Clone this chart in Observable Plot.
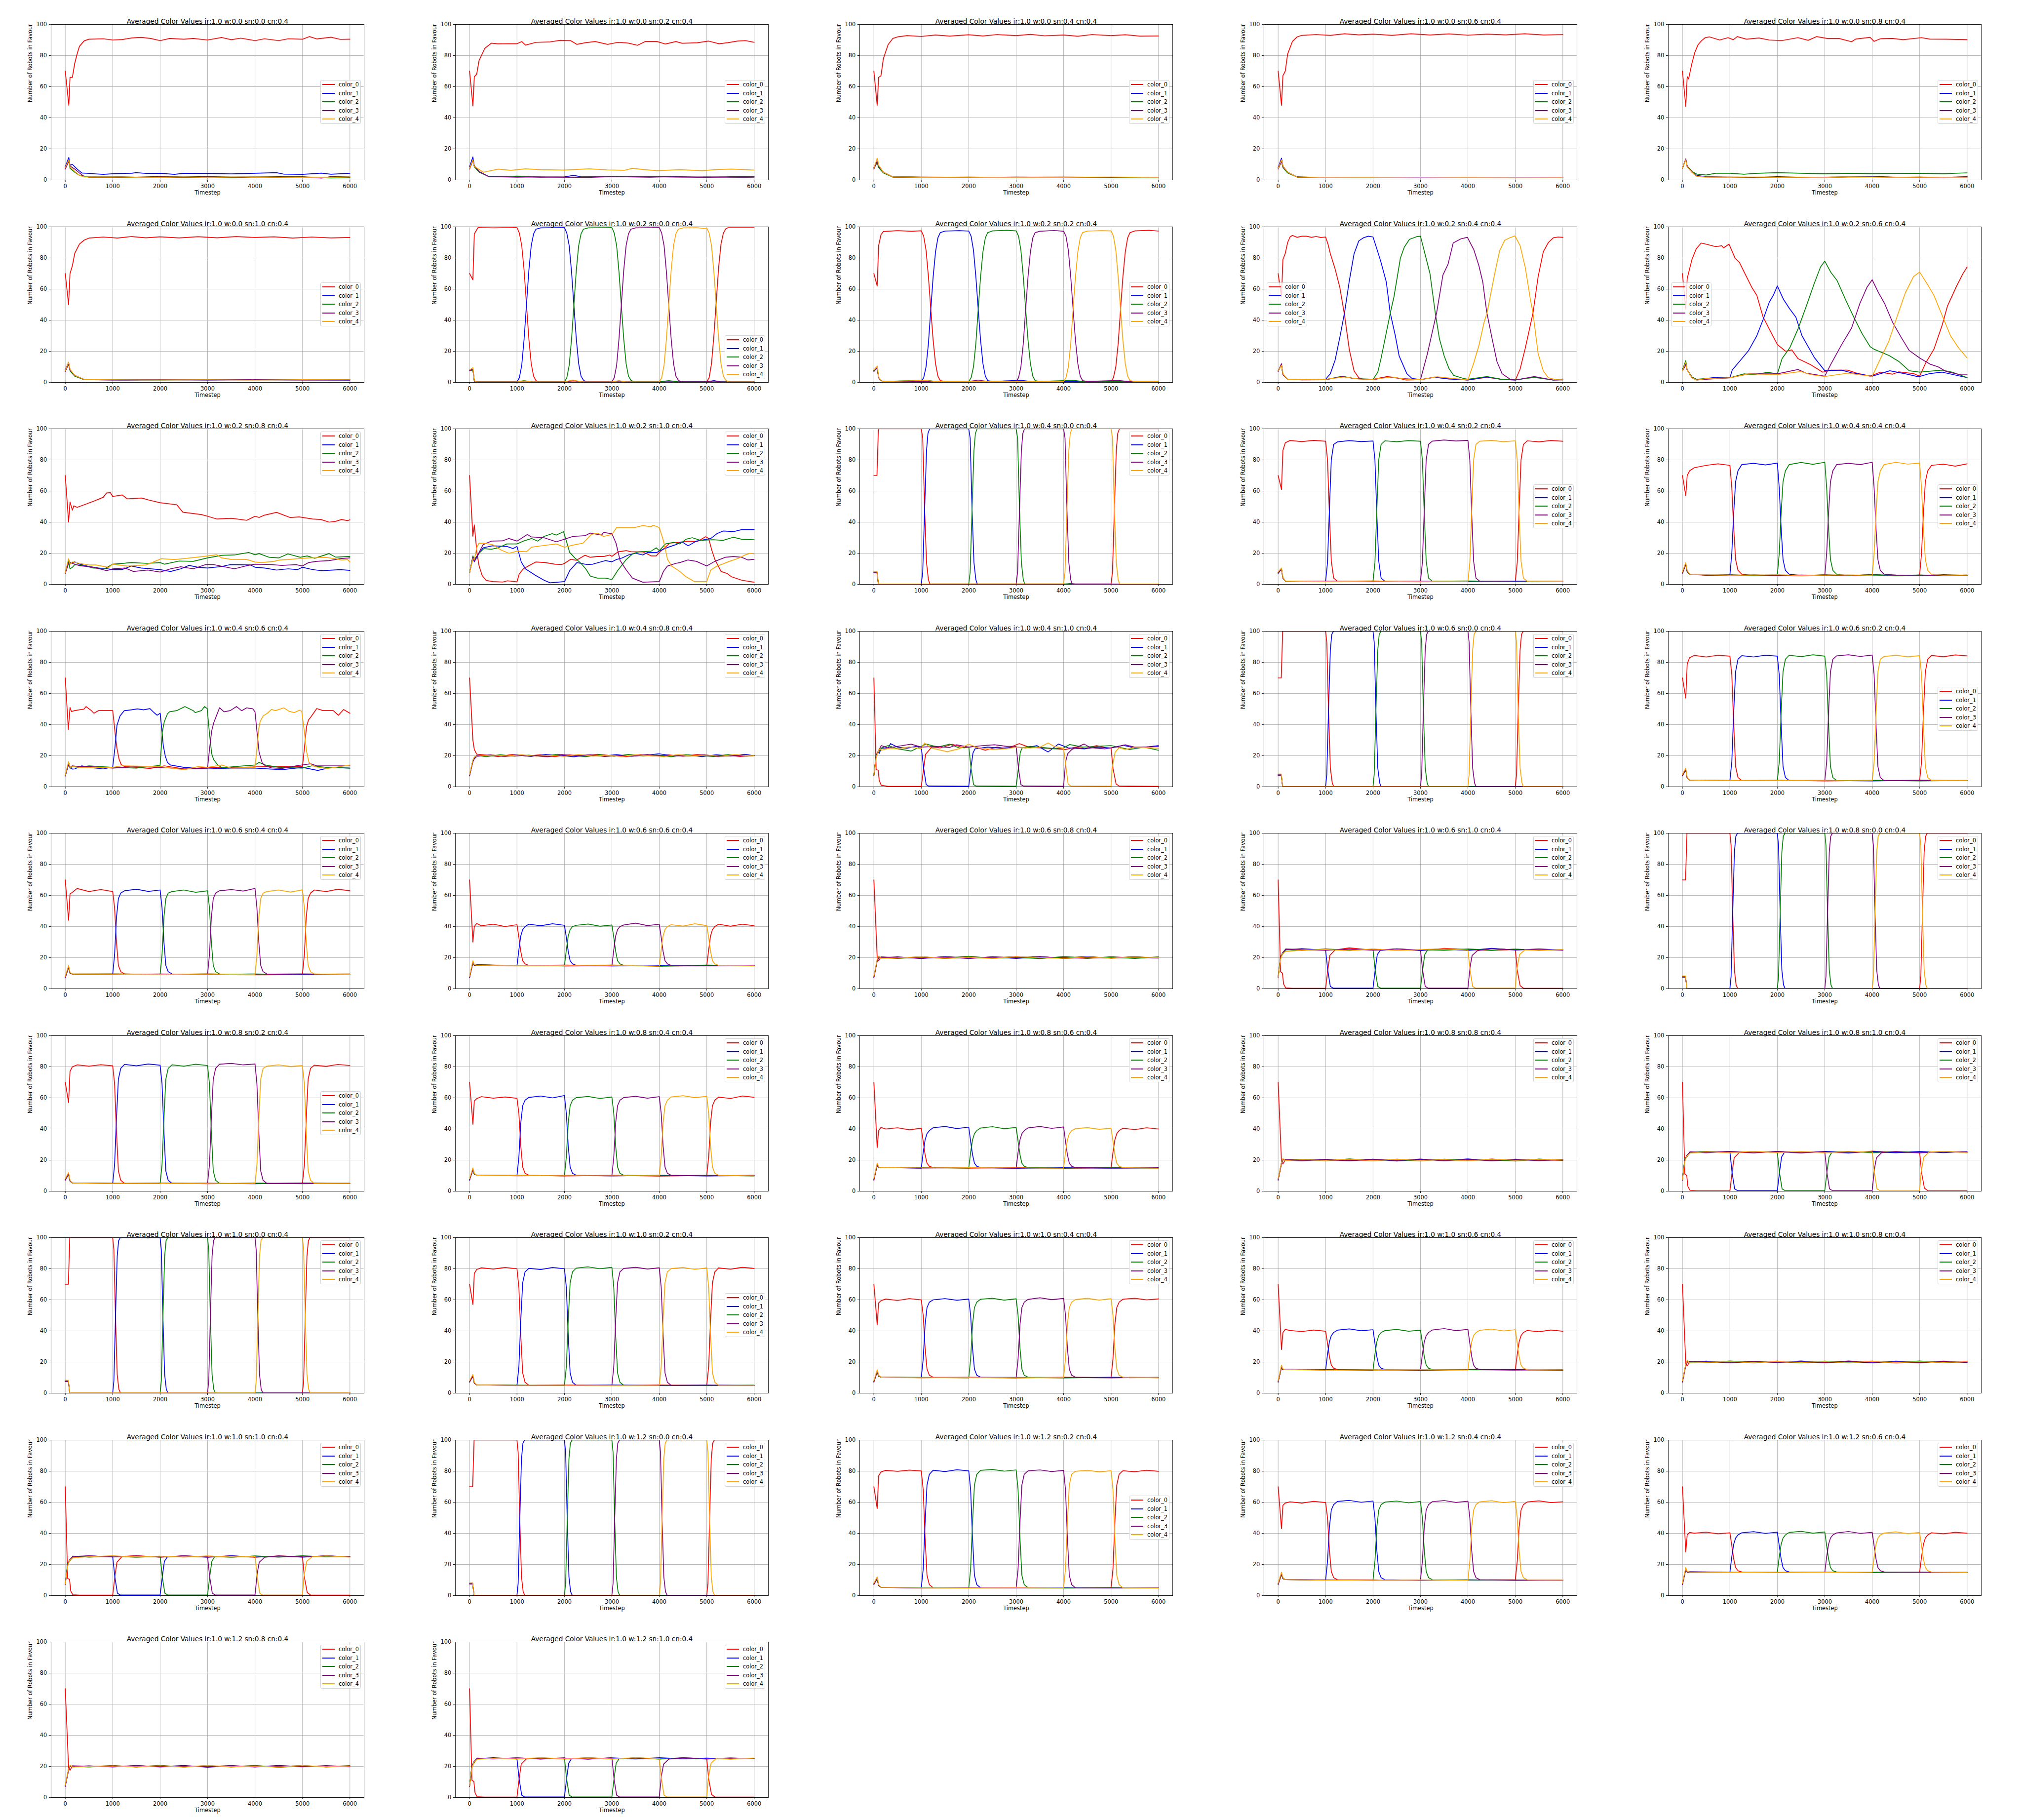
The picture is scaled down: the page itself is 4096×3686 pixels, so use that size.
<!DOCTYPE html>
<html><head><meta charset="utf-8">
<script src="https://cdn.jsdelivr.net/npm/d3@7"></script>
<script src="https://cdn.jsdelivr.net/npm/@observablehq/plot@0.6"></script>
<style>
html,body{margin:0;padding:0;background:#fff;}
#fig{position:relative;width:4096px;height:3686px;overflow:hidden;font-family:"DejaVu Sans",sans-serif;background:#fff;}
.cell{position:absolute;width:819px;height:410px;}
.cell svg{position:absolute;left:0;top:0;overflow:visible;}
.legend{position:absolute;width:82px;height:89px;box-sizing:border-box;background:rgba(255,255,255,0.8);border:1px solid #d4d4d4;border-radius:3px;}
.legend .h{position:absolute;left:3px;width:25px;height:2px;}
.legend .t{position:absolute;left:36px;font-size:11.4px;line-height:12px;color:#000;white-space:nowrap;}
</style></head>
<body><div id="fig"></div>
<script>
const series = ["color_0","color_1","color_2","color_3","color_4"];
const lineColors = ["red","blue","green","purple","orange"];
const xTicks = [0,1000,2000,3000,4000,5000,6000];
const yTicks = [0,20,40,60,80,100];
const wValues = ["0.0","0.2","0.4","0.6","0.8","1.0","1.2"];
const snValues = ["0.0","0.2","0.4","0.6","0.8","1.0"];
const legendLoc = ["cr","cr","cr","cr","cr", "cr","lr","cr","cl","cl", "ur","ur","ur","cr","cr", "ur","ur","ur","ur","cr",
  "ur","ur","ur","ur","ur", "cr","ur","ur","ur","ur", "ur","cr","ur","ur","ur", "ur","ur","cr","ur","ur", "ur","ur"];

const P00 = [
 [0,70, 75,48, 100,66, 150,66, 200,75, 250,81, 300,86, 400,89.5, 500,90.5, 800,90.8, 1000,90, 1200,90.3, 1400,91.3, 1600,91.7, 1800,91, 2000,89.6, 2200,91, 2500,90.5, 2700,91, 3000,90, 3300,91.6, 3500,90.2, 3700,91.2, 4000,89.6, 4200,90.8, 4500,89.6, 4700,90.8, 5000,90.5, 5150,92.2, 5300,90.7, 5600,91.8, 5800,90.4, 6000,90.5],
 [0,8.5, 75,14.5, 100,9.5, 150,10, 250,7, 350,4.5, 500,4.2, 800,3.6, 1000,4, 1400,4.3, 1500,4.7, 1700,4.2, 2000,4.3, 2300,3.6, 2500,4.3, 3000,4.2, 3500,3.9, 4000,4.3, 4450,4.7, 4600,3.8, 5000,3.6, 5400,4.4, 5600,3.7, 6000,4.3],
 [0,7.5, 75,13, 100,7.5, 200,5, 300,3, 400,2.5, 500,1.8, 1000,1.8, 1500,1.5, 2000,1.9, 2500,1.6, 3000,1.8, 3500,1.5, 4000,1.9, 4500,1.7, 5000,2, 5600,1.3, 6000,1.5],
 [0,7, 75,12, 100,9, 200,7, 300,4.5, 400,2.2, 1000,2.1, 1500,1.8, 2000,2.3, 2500,2, 3000,2.2, 3500,1.9, 4000,2, 4500,2.1, 5000,2, 5400,1.2, 5600,2.2, 6000,2],
 [0,8, 75,13, 100,8.5, 200,5.5, 300,3, 400,2, 1000,2, 1500,1.7, 2000,1.8, 2500,2, 3000,1.6, 3500,1.9, 4000,2, 4500,1.8, 5000,1.8, 5500,1.6, 6000,2]];
const P01 = [
 [0,70, 70,47.6, 100,66.4, 150,68, 200,76.8, 320,84.6, 460,88, 600,87.5, 800,87.6, 1000,87.6, 1100,89, 1180,86.7, 1400,88.5, 1700,88.8, 1915,89.8, 2130,89.6, 2260,87.2, 2450,88.3, 2650,89, 2910,87.2, 3130,88.5, 3350,88, 3540,86.6, 3700,89, 3955,89, 4130,87.4, 4350,89, 4480,87.9, 4800,88.2, 5040,89.3, 5260,87.6, 5450,88.3, 5650,89.3, 5820,89.6, 6000,88.5],
 [0,8.5, 70,14.8, 100,9.2, 200,5.3, 400,2.3, 700,2, 1000,2.2, 1500,1.8, 2000,2, 2200,3, 2350,2, 2800,2.1, 3300,2, 3800,1.8, 4300,2.2, 4800,1.8, 5300,1.9, 5800,1.6, 6000,1.9],
 [0,7.5, 70,13, 100,8.5, 200,5, 400,2.3, 700,2, 1000,2.5, 1500,1.9, 2000,1.8, 2500,1.9, 3000,2.2, 3500,2.1, 4000,2, 4500,1.8, 5000,2, 5500,1.8, 6000,1.8],
 [0,7, 70,12.5, 100,9, 200,5.5, 400,2.2, 1000,1.8, 1500,2, 2000,1.8, 2500,1.6, 3000,2.2, 3500,2, 4000,2.1, 4500,2, 5000,1.7, 5500,2.1, 6000,2.1],
 [0,7.5, 70,13, 100,8.8, 290,5, 610,7, 870,6.2, 1180,7.2, 1500,6.6, 2000,6.4, 2520,7.2, 2900,6.5, 3260,6.2, 3430,7.5, 3700,6.6, 3955,6, 4430,6.6, 4910,6, 5200,6.7, 5520,7, 6000,6.4]];
const P02 = [
 [0,70, 70,48, 100,66, 150,67, 200,78, 300,87, 400,91, 500,92, 700,92.8, 1000,92.3, 1300,93.2, 1600,92.5, 2000,93.4, 2300,92.6, 2600,93.5, 3000,92.8, 3300,93.6, 3600,92.7, 4000,93.2, 4300,92.4, 4600,93.5, 5000,92.8, 5300,93.4, 5600,92.5, 6000,92.6],
 [0,8, 70,12, 100,9, 200,5, 400,2, 1000,1.8, 2000,1.6, 3000,1.9, 4000,1.6, 5000,1.8, 6000,1.7],
 [0,7.5, 70,11, 100,8, 200,4.5, 400,1.8, 1000,1.6, 2000,1.9, 3000,1.5, 4000,1.8, 5000,1.6, 6000,1.5],
 [0,7, 70,12, 100,9, 200,5, 400,2, 1000,1.9, 2000,1.7, 3000,1.8, 4000,1.9, 5000,1.7, 6000,1.8],
 [0,7.5, 70,14, 100,9.5, 200,5, 400,2, 1000,1.7, 2000,1.8, 3000,1.6, 4000,1.7, 5000,1.9, 6000,1.6]];
const P03 = [
 [0,70, 70,48, 100,67, 150,70, 200,81, 300,89, 400,92, 500,93, 800,93.5, 1100,93, 1400,94, 1700,93.3, 2000,93.8, 2400,93, 2800,94, 3200,93.2, 3600,93.9, 4000,93.1, 4400,93.8, 4800,93.3, 5200,94, 5600,93.2, 6000,93.5],
 [0,8, 70,14, 100,9, 200,5, 400,2, 1000,1.5, 2000,1.7, 3000,1.4, 4000,1.8, 5000,1.5, 6000,1.6],
 [0,7.5, 70,12, 100,8, 200,4.5, 400,1.8, 1000,1.6, 2000,1.5, 3000,1.8, 4000,1.5, 5000,1.7, 6000,1.5],
 [0,7, 70,12, 100,8.5, 200,5, 400,1.9, 1000,1.7, 2000,1.6, 3000,1.7, 4000,1.6, 5000,1.6, 6000,1.8],
 [0,7.5, 70,13, 100,9, 200,5, 400,1.9, 1000,1.6, 2000,1.7, 3000,1.5, 4000,1.7, 5000,1.5, 6000,1.6]];
const P04 = [
 [0,70, 70,47.3, 100,66.4, 130,65, 150,68, 200,75, 260,82, 330,87, 400,89.5, 480,91.5, 570,92, 785,90, 960,91.5, 1070,90.2, 1155,92.2, 1350,90.5, 1610,91.3, 1830,90, 2090,89.6, 2435,91.5, 2650,89.8, 2830,92.2, 3050,91, 3300,91, 3565,88.9, 3650,90.6, 3955,91.7, 4040,89.1, 4170,90.8, 4430,91, 4650,90.2, 5040,91.5, 5210,90.6, 5560,90.5, 6000,90.2],
 [0,7.5, 70,13.5, 100,8.5, 200,5, 300,3, 500,2, 1000,1.7, 1500,1.5, 2000,2.1, 2500,1.7, 3000,1.8, 3500,2, 4000,2.3, 4500,1.7, 5000,1.9, 5500,1.6, 6000,2.1],
 [0,7.5, 70,13, 100,9, 200,5.5, 300,3.8, 500,3.2, 700,4.3, 1000,4.3, 1300,3.7, 1500,4.2, 2000,4.7, 2500,4.3, 3000,4, 3500,4.3, 4000,4.1, 4500,4.2, 5000,4.3, 5500,4, 6000,4.6],
 [0,7.5, 70,13.5, 100,9, 200,5, 300,2.5, 500,2, 1000,1.9, 1500,1.8, 2000,1.9, 2500,1.6, 3000,1.7, 3500,1.9, 4000,2, 4500,1.8, 5000,1.6, 5500,1.5, 6000,2],
 [0,7.5, 70,13, 100,8.5, 200,5, 300,2.5, 500,1.8, 1000,1.7, 1500,1.9, 2000,1.8, 2500,1.8, 3000,1.6, 3500,2, 4000,1.9, 4500,1.7, 5000,1.8, 5500,1.7, 6000,1.6]];
const P05 = [
 [0,70, 70,50, 100,70, 150,75, 200,83, 300,89, 400,91.5, 500,92.8, 800,93.5, 1100,92.8, 1400,93.8, 1700,93, 2000,93.6, 2400,92.9, 2800,93.7, 3200,93, 3600,93.8, 4000,93.2, 4400,93.6, 4800,92.8, 5200,93.5, 5600,92.9, 6000,93.2],
 [0,8, 70,13, 100,8, 200,4.5, 400,1.8, 1000,1.6, 2000,1.8, 3000,1.5, 4000,1.7, 5000,1.6, 6000,1.5],
 [0,7.5, 70,11.5, 100,7.5, 200,4, 400,1.8, 1000,1.7, 2000,1.5, 3000,1.8, 4000,1.6, 5000,1.7, 6000,1.8],
 [0,7, 70,12, 100,8, 200,4.5, 400,1.8, 1000,1.5, 2000,1.7, 3000,1.6, 4000,1.8, 5000,1.5, 6000,1.6],
 [0,7.5, 70,13, 100,8.5, 200,4.5, 400,1.9, 1000,1.7, 2000,1.6, 3000,1.7, 4000,1.5, 5000,1.8, 6000,1.7]];
const P06 = [
 [0,70, 70,66, 100,95.5, 180,99.6, 500,99.4, 1000,99.6, 1050,96, 1100,88, 1150,72, 1200,50, 1250,28, 1300,12, 1350,4, 1400,1.2, 1450,0.4, 5000,0.4, 5050,3, 5100,12, 5150,30, 5200,52, 5250,74, 5300,89, 5350,96, 5400,98.7, 5450,99.5, 6000,99.5],
 [0,8, 70,8.5, 100,1, 150,0.4, 1000,0.4, 1050,3, 1100,11, 1150,28, 1200,50, 1250,72, 1300,88, 1350,95.5, 1400,98.5, 1500,99.4, 2000,99.6, 2050,96, 2100,88, 2150,71, 2200,49, 2250,28, 2300,12, 2350,4, 2400,1.5, 2450,0.4, 3000,0.4, 3150,1, 3300,0.4, 5000,0.4, 5150,1.2, 5300,0.4, 6000,0.4],
 [0,7.5, 70,8, 100,1, 150,0.4, 1000,0.4, 1150,1.2, 1300,0.4, 2000,0.4, 2050,3, 2100,11, 2150,28, 2200,50, 2250,72, 2300,88, 2350,95.5, 2400,98.5, 2500,99.4, 3000,99.6, 3050,96, 3100,88, 3150,71, 3200,49, 3250,28, 3300,12, 3350,4, 3400,1.5, 3450,0.4, 4000,0.4, 4200,1.2, 4400,0.4, 6000,0.4],
 [0,7.5, 70,8.5, 100,1, 150,0.4, 2000,0.4, 2200,1.2, 2350,0.4, 3000,0.4, 3050,3, 3100,11, 3150,28, 3200,50, 3250,72, 3300,88, 3350,95.5, 3400,98.5, 3500,99.4, 4000,99.6, 4050,96, 4100,88, 4150,71, 4200,49, 4250,28, 4300,12, 4350,4, 4400,1.5, 4450,0.4, 5000,0.4, 5150,1, 5300,0.4, 6000,0.4],
 [0,8, 70,9.5, 100,1.2, 150,0.4, 1000,0.4, 1150,1, 1300,0.4, 2000,0.4, 2180,1.6, 2350,0.4, 3000,0.4, 3150,1.1, 3300,0.4, 4000,0.4, 4050,3, 4100,11, 4150,28, 4200,50, 4250,72, 4300,88, 4350,95.5, 4400,98.5, 4500,99.4, 4800,99.5, 4950,99, 5000,99.3, 5050,96, 5100,88, 5150,71, 5200,49, 5250,28, 5300,12, 5350,4, 5400,1.5, 5450,0.4, 6000,0.4]];
const P07 = [
 [0,70, 70,62, 100,88, 150,95, 200,97, 500,97.6, 800,97.2, 1000,97.5, 1050,94, 1100,85, 1150,68, 1200,47, 1250,27, 1300,12, 1350,4, 1400,1.2, 1500,0.6, 5000,0.6, 5050,3, 5100,10, 5150,25, 5200,47, 5250,68, 5300,84, 5350,93, 5400,96.3, 5500,97.4, 5800,97.8, 6000,97.3],
 [0,7.5, 70,9.5, 100,3, 150,1.2, 200,0.6, 1000,0.6, 1050,3, 1100,10, 1150,25, 1200,47, 1250,68, 1300,84, 1350,93, 1400,96.3, 1500,97.3, 1800,97.6, 2000,97.3, 2050,94, 2100,85, 2150,68, 2200,47, 2250,27, 2300,12, 2350,4, 2400,1.2, 2500,0.6, 3100,1.4, 3300,0.6, 6000,0.6],
 [0,7.5, 70,9, 100,3, 150,1.2, 200,0.6, 1100,1.5, 1300,0.6, 2000,0.6, 2050,3, 2100,10, 2150,25, 2200,47, 2250,68, 2300,84, 2350,93, 2400,96.3, 2500,97.4, 2800,97.8, 3000,97.4, 3050,94, 3100,85, 3150,68, 3200,47, 3250,27, 3300,12, 3350,4, 3400,1.2, 3500,0.6, 4200,1.4, 4400,0.6, 6000,0.6],
 [0,7, 70,9.5, 100,3, 150,1.2, 200,0.6, 2000,0.6, 2200,1.5, 2400,0.6, 3000,0.6, 3050,3, 3100,10, 3150,25, 3200,47, 3250,68, 3300,84, 3350,93, 3400,96.3, 3500,97.2, 3800,97.7, 4000,97.2, 4050,94, 4100,85, 4150,68, 4200,47, 4250,27, 4300,12, 4350,4, 4400,1.2, 4500,0.6, 5150,1.3, 5350,0.6, 6000,0.6],
 [0,8, 70,10.5, 100,3.5, 150,1.2, 200,0.6, 1100,1.3, 1300,0.6, 4000,0.6, 4050,3, 4100,10, 4150,25, 4200,47, 4250,68, 4300,84, 4350,93, 4400,96.3, 4500,97.3, 4800,97.6, 5000,97.4, 5050,94, 5100,85, 5150,68, 5200,47, 5250,27, 5300,12, 5350,4, 5400,1.2, 5500,0.6, 6000,0.6]];
const P08 = [
 [0,70, 70,55, 100,79, 150,83, 200,90, 250,93.5, 300,94.5, 400,93.3, 500,94, 600,94, 700,93.3, 800,93.8, 900,93.2, 1000,93.5, 1050,89, 1100,82.7, 1200,73, 1300,61, 1400,43, 1500,21, 1600,7.4, 1700,3, 1800,2, 2000,2, 2300,3.8, 2500,3, 2700,1.5, 3000,1.8, 3300,3.5, 3600,2.5, 4000,1.5, 4400,3.3, 4700,2, 5000,1.5, 5100,8.5, 5209,22, 5317,37, 5372,44.6, 5480,68, 5589,84, 5697,90, 5800,93, 5900,93.5, 6000,93.3],
 [0,7.5, 70,11.5, 100,5, 200,2, 500,1.8, 1000,2, 1100,5.6, 1200,14.3, 1300,29, 1400,45, 1500,65.4, 1600,82.7, 1700,91, 1800,93, 1900,94, 2000,93.5, 2100,84, 2170,77, 2280,64.5, 2360,45, 2470,30, 2550,17, 2713,5.6, 2821,2.6, 3000,1.8, 3300,3.3, 3600,2.2, 4000,1.5, 4400,3.5, 4700,2, 5000,1.5, 5400,3.5, 5800,1.5, 6000,1.8],
 [0,7.5, 70,11, 100,5, 200,2, 500,1.7, 1000,1.8, 1350,4, 1600,2.5, 2000,2, 2100,6.5, 2170,15.6, 2366,45, 2441,55, 2577,80, 2659,87, 2767,92, 2930,93.8, 3000,94, 3100,82, 3200,70, 3310,45, 3400,28, 3500,17, 3600,9, 3700,4.5, 3900,2.6, 4000,2, 4400,3.8, 4700,2, 5000,1.7, 5400,3.2, 5800,1.5, 6000,2.2],
 [0,7, 70,12, 100,5, 200,2, 500,1.6, 1000,1.7, 1350,3.8, 1600,2.5, 2000,1.7, 2300,3.5, 2600,2.5, 3000,1.8, 3147,18.6, 3342,45, 3473,69, 3581,76, 3690,89.7, 3853,92.3, 3988,93.3, 4124,85.4, 4232,75, 4313,64.6, 4395,45.5, 4504,29, 4612,13.4, 4720,5.6, 4883,2.2, 5000,1.5, 5400,3.8, 5800,1.5, 6000,1.6],
 [0,7.5, 70,11, 100,5.5, 200,2, 500,1.8, 1000,2, 1400,3.5, 1700,2.2, 2000,2, 2400,3.5, 2700,2, 3000,1.8, 3350,3.6, 3700,2.5, 4000,1.7, 4124,12.6, 4232,23.8, 4340,38.6, 4405,45, 4558,69, 4667,84.6, 4775,91.4, 4883,93, 4992,94.2, 5100,88, 5209,74, 5317,53.4, 5372,44.6, 5480,18.6, 5589,7.4, 5697,3, 5860,1.7, 6000,1.7]];
const P09 = [
 [0,70, 70,47, 100,66.8, 200,79, 290,85.9, 395,89.6, 500,88.9, 700,87.3, 830,87.9, 864,86.5, 981,88.9, 1110,79.8, 1200,77.2, 1305,70.7, 1460,61.2, 1567,56, 1700,42, 1830,34.3, 2000,24.4, 2175,20, 2305,20.9, 2435,15.3, 2700,11.4, 2955,6.6, 3130,7.9, 3480,7.9, 3650,6.2, 3955,4, 4170,6.6, 4430,5.3, 4560,6.8, 4870,5.7, 5000,4, 5130,12.7, 5300,21.3, 5475,36.9, 5585,49, 5780,62, 5910,69.8, 6000,74.2],
 [0,8.5, 70,12, 100,8, 200,3.5, 300,1.8, 500,2.5, 700,3.3, 1000,3, 1050,8, 1180,12.7, 1394,20.5, 1567,30, 1700,40.4, 1830,51.6, 1915,56, 2000,62, 2130,53.4, 2260,47.3, 2390,42, 2520,30, 2650,23, 2780,16, 2910,11, 3000,7.5, 3350,7.9, 3565,6.2, 4000,4, 4370,7.5, 4740,5.3, 4975,3.6, 5215,5.7, 5475,6.6, 6000,3.1],
 [0,8, 70,14, 100,8, 200,3.5, 300,2, 500,2.5, 1000,3, 1300,5.5, 1500,5, 1800,6.5, 2000,5.5, 2100,15.3, 2260,22.2, 2435,34.3, 2610,49, 2780,63.8, 2910,74.2, 3000,78, 3130,70.7, 3260,65.5, 3435,53.4, 3610,42, 3780,31.7, 3955,23, 4040,21.3, 4350,17.4, 4560,13.5, 4780,7.5, 5000,6.6, 5475,7.9, 5690,6.6, 6000,3.1],
 [0,7.5, 70,11, 100,8, 200,3, 300,1.5, 500,2, 1000,3, 1400,5.5, 2000,5.5, 2435,8.3, 2600,6, 3000,4, 3130,11.8, 3350,24, 3565,35, 3740,50.8, 3890,61.2, 4000,66, 4130,57.8, 4260,50.8, 4430,38.6, 4610,29, 4780,20.5, 5000,15.7, 5215,11.8, 5390,10, 5560,7, 5865,4.9, 6000,4.9],
 [0,7.5, 70,13, 100,8, 200,3, 300,1.5, 500,2.5, 1000,3, 1400,5.5, 2000,5, 2500,7, 2700,5, 3000,3.8, 3500,6, 3700,5, 4000,4, 4215,17.9, 4350,26.5, 4520,42, 4700,57.7, 4870,68, 5000,71, 5170,62.8, 5300,56, 5475,43, 5650,30, 5820,22.2, 6000,15.7]];
const P10 = [
 [0,70, 70,40, 100,53, 150,47.7, 180,50.5, 250,49.5, 400,51.2, 600,53.5, 800,56, 873,58.8, 950,59, 1000,56.5, 1200,57.5, 1307,55, 1611,55.5, 1763,54.2, 2000,52.5, 2350,51.2, 2480,46.4, 2870,44.9, 3000,43.8, 3200,42, 3500,42.5, 3825,41.2, 4000,43.8, 4086,43, 4200,44.5, 4455,46.3, 4737,43, 4933,43.4, 5215,42, 5389,41.7, 5562,40, 5700,40.5, 5823,41.7, 5950,41, 6000,41.5],
 [0,7.5, 70,16, 100,13.5, 200,14.4, 300,13, 500,11.5, 700,10.5, 900,10, 1000,9.5, 1200,9.5, 1394,11.8, 1600,10.5, 2000,9.5, 2219,8.3, 2435,10, 2610,12.2, 2800,11, 3000,10.5, 3300,11.5, 3478,12.7, 3900,12.5, 4000,11, 4200,10.5, 4455,9.2, 4700,10, 4900,9.5, 5000,11, 5200,9.6, 5389,8.8, 5800,9.5, 6000,9],
 [0,7.5, 70,15, 100,10, 150,11, 200,12.7, 400,12, 590,10.5, 830,10, 1000,13, 1400,14, 1741,13.5, 2000,14, 2089,13, 2400,15, 2697,14.8, 3000,17, 3304,18.7, 3565,18.9, 3869,20.5, 4000,19, 4086,19.8, 4300,17.4, 4500,17, 4694,19.6, 4954,17.4, 5100,18.3, 5258,16.8, 5562,19.8, 5700,17.5, 6000,18],
 [0,7, 70,13.5, 100,14, 150,13.5, 300,12, 600,11, 873,8.8, 1000,10, 1263,10.5, 1437,8.3, 1741,9.2, 2000,7.9, 2219,10, 2435,11.3, 2697,10, 2957,12.7, 3130,12.7, 3565,10, 3825,12, 4000,13, 4350,12.7, 4565,12.2, 4867,12.7, 4997,11.8, 5128,14, 5300,14.8, 5562,15.3, 5823,16.6, 6000,17],
 [0,7.5, 70,16.5, 100,13, 150,14.4, 300,13.5, 504,12.5, 650,12.5, 916,10.9, 1000,13, 1307,11.8, 1700,12.5, 1828,14, 2023,16.5, 2300,16, 2480,16.5, 2900,17.9, 3196,19.1, 3300,17, 3500,16.1, 3825,16, 4000,14.4, 4130,14, 4400,14.8, 4520,15.7, 4700,16, 4900,16.5, 5128,17, 5476,17.4, 5700,16.5, 5823,15.7, 5950,16, 6000,14.4]];
const P11 = [
 [0,70, 69,31, 100,38.2, 156,20, 200,12, 265,5.7, 350,2.5, 500,1.8, 700,1.5, 800,2.3, 1000,1.6, 1046,6.6, 1133,10, 1263,12.2, 1394,14.4, 1600,14, 1800,13, 1937,12.7, 2000,13.5, 2132,16.1, 2250,15.5, 2435,18.7, 2545,17.4, 2700,18, 2827,17.9, 2957,18.9, 3000,18, 3130,20.9, 3304,21.7, 3400,21, 3652,20.9, 3750,19.5, 3825,18.3, 3934,18.3, 4000,20.5, 4130,23.9, 4216,26.5, 4433,27, 4607,27.8, 4800,27.5, 4976,30.6, 5040,29.5, 5106,22, 5171,16, 5302,8.3, 5432,7, 5519,4.9, 5736,2.7, 6000,1.4],
 [0,7.5, 70,17, 100,14.5, 200,20, 287,23.5, 482,24.8, 700,24.5, 786,24.4, 916,23, 1000,24.4, 1090,14.4, 1177,10, 1394,5.7, 1568,2.7, 1698,1, 2002,1.8, 2110,8.8, 2262,14, 2480,12.7, 2600,13, 2870,15.3, 3000,14.5, 3100,16, 3217,17, 3348,18.9, 3500,20, 3652,18.9, 3750,20.5, 3950,20.5, 4000,21.5, 4200,24, 4347,25.5, 4477,27.4, 4607,24.8, 4781,27.8, 5000,29, 5085,29.5, 5215,32.6, 5345,34.3, 5562,33.9, 5736,35.2, 6000,35.2],
 [0,7.5, 70,18.3, 100,16, 200,20, 300,23, 460,22.6, 600,23.5, 786,26, 1000,26, 1133,27.8, 1307,29.5, 1437,27.8, 1568,30.8, 1741,32.6, 1828,31.7, 1980,33.9, 2045,27.4, 2110,20.5, 2219,17, 2349,13.5, 2458,9.6, 2545,5.3, 2697,4, 2870,4, 3000,3.1, 3130,9.2, 3304,16, 3435,19.6, 3565,20.9, 3825,21.3, 3934,23.5, 4000,21.7, 4130,26, 4303,27, 4433,26, 4564,29, 4694,30, 4868,28.3, 5128,28.7, 5345,28.3, 5562,30.3, 5736,29, 6000,28.7],
 [0,7.5, 70,17.5, 100,15, 200,20.5, 287,25.6, 460,27.8, 700,28, 830,29.5, 1000,27.8, 1220,32.1, 1300,30.5, 1568,30, 1828,27.4, 2000,29, 2175,30.8, 2435,31.3, 2545,33, 2783,31.7, 2827,33.4, 3000,32.6, 3087,26.5, 3174,15.3, 3304,9.2, 3435,4, 3652,1.4, 4000,1.8, 4086,8.3, 4173,11.8, 4347,13.5, 4433,14, 4607,15.7, 4781,14.8, 4998,11.8, 5172,14.8, 5389,17.4, 5562,17.9, 5736,17.4, 5867,15.7, 6000,16.1],
 [0,7.5, 70,16.5, 100,16, 156,24, 200,26.5, 287,26.5, 482,25.6, 656,22.2, 830,20, 1000,21.3, 1200,21, 1307,23.9, 1568,25, 1828,26, 2000,23.9, 2175,25.2, 2392,26.5, 2566,32.1, 2697,33, 2827,30.8, 3000,32.1, 3100,36.5, 3300,36.5, 3478,36.5, 3652,37.8, 3825,37, 3869,38, 4000,36.5, 4086,28.2, 4173,16.1, 4260,11.8, 4433,8.3, 4564,4.9, 4738,1.8, 4998,1.8, 5085,9.2, 5215,11.8, 5302,12.7, 5476,14.8, 5650,16.6, 5823,19.1, 5910,20, 6000,19.6]];
const P12 = [
 [0,70, 65,70, 95,100, 1000,100, 1030,94, 1068,50, 1110,14, 1150,3, 1180,0.3, 5000,0.3, 5030,8, 5072,50, 5110,86, 5140,97, 5175,100, 6000,100],
 [0,8, 65,8, 95,0.2, 1000,0.2, 1030,8, 1072,50, 1110,86, 1140,97, 1175,100, 2000,100, 2030,94, 2068,50, 2110,14, 2150,3, 2180,0.2, 6000,0.2],
 [0,7.6, 65,7.6, 95,0.2, 2000,0.2, 2030,8, 2072,50, 2110,86, 2140,97, 2175,100, 3000,100, 3030,94, 3068,50, 3110,14, 3150,3, 3180,0.2, 4050,0.2, 4150,0.6, 4250,0.2, 6000,0.2],
 [0,7.4, 65,7.4, 95,0.2, 3000,0.2, 3030,8, 3072,50, 3110,86, 3140,97, 3175,100, 4000,100, 4030,94, 4068,50, 4110,14, 4150,3, 4180,0.2, 6000,0.2],
 [0,8.2, 65,8.2, 95,0.2, 4000,0.2, 4030,8, 4072,50, 4110,86, 4140,97, 4175,100, 5000,100, 5030,94, 5068,50, 5110,14, 5150,3, 5180,0.2, 6000,0.2]];
const P13 = [
 [0,70, 70,61, 100,86, 150,91, 250,92.5, 500,91.8, 750,92.6, 1000,92, 1040,80, 1080,45, 1120,15, 1170,4, 1250,2, 2000,2.2, 3000,1.8, 4000,2.1, 5000,2, 5040,14, 5080,48, 5120,80, 5170,90, 5250,92.3, 5500,91.6, 5750,92.5, 6000,92],
 [0,7.5, 70,10, 100,4, 150,2.2, 500,2, 1000,2, 1040,14, 1080,48, 1120,80, 1170,90, 1250,91.6, 1500,92.4, 1750,91.8, 2000,92.2, 2040,80, 2080,45, 2120,15, 2170,4, 2250,2, 3000,2, 4000,1.8, 5000,2.1, 6000,1.9],
 [0,7.5, 70,9.5, 100,4, 150,2.2, 1000,1.9, 2000,2, 2040,14, 2080,48, 2120,80, 2170,90, 2250,92.3, 2500,91.7, 2750,92.4, 3000,92, 3040,80, 3080,45, 3120,15, 3170,4, 3250,2, 4000,2.2, 5000,1.8, 6000,2],
 [0,7, 70,10, 100,4, 150,2.2, 1000,2.1, 2000,1.8, 3000,2, 3040,14, 3080,48, 3120,80, 3170,90, 3250,92.1, 3500,92.8, 3750,92.2, 4000,92.6, 4040,80, 4080,45, 4120,15, 4170,4, 4250,2, 5000,1.9, 6000,2.1],
 [0,8, 70,10.5, 100,4.5, 150,2.2, 1000,1.8, 2000,2.1, 3000,1.9, 4000,2, 4040,14, 4080,48, 4120,80, 4170,90, 4250,92, 4500,92.6, 4750,91.7, 5000,92.3, 5040,80, 5080,45, 5120,15, 5170,4, 5250,2, 6000,2]];
const P14 = [
 [0,70, 70,57, 100,70, 150,73, 250,75, 500,76.5, 750,77.5, 1000,76.5, 1040,62, 1080,36, 1120,16, 1170,9, 1250,6.5, 1500,5.8, 2000,6, 2500,5.5, 3000,6.2, 3500,5.6, 4000,6, 4500,5.7, 5000,6, 5040,20, 5080,46, 5120,66, 5170,73, 5250,76.5, 5500,77.3, 5750,76, 6000,77.5],
 [0,7.5, 70,13, 100,8, 150,6.5, 500,6, 1000,6, 1040,20, 1080,46, 1120,66, 1170,73, 1250,77, 1500,77.8, 1750,76.8, 2000,78, 2040,62, 2080,36, 2120,16, 2170,9, 2250,6.5, 2500,5.8, 3000,6, 3500,5.5, 4000,6.3, 4500,5.8, 5000,6, 5500,5.6, 6000,6],
 [0,7.5, 70,12.5, 100,8, 150,6.5, 500,5.8, 1000,6.2, 1500,5.6, 2000,6, 2040,20, 2080,46, 2120,66, 2170,73, 2250,77, 2500,78.4, 2750,77.2, 3000,78.5, 3040,62, 3080,36, 3120,16, 3170,9, 3250,6.5, 3500,5.7, 4000,6.2, 4500,5.5, 5000,6, 5500,5.8, 6000,5.9],
 [0,7, 70,13, 100,8.5, 150,6.5, 500,6, 1000,5.7, 1500,6.1, 2000,5.6, 2500,6, 3000,5.8, 3040,20, 3080,46, 3120,66, 3170,73, 3250,77, 3500,77.8, 3750,77, 4000,78.5, 4040,62, 4080,36, 4120,16, 4170,9, 4250,6.5, 4500,6, 5000,5.7, 5500,6.2, 6000,5.8],
 [0,8, 70,14, 100,9, 150,6.5, 500,6.2, 1000,5.8, 1500,6, 2000,6.2, 2500,5.7, 3000,6, 3500,6.1, 4000,5.8, 4040,20, 4080,46, 4120,66, 4170,73, 4250,77, 4500,78.5, 4750,77.3, 5000,78, 5040,62, 5080,36, 5120,16, 5170,9, 5250,6.5, 5500,5.9, 6000,6]];
const P15 = [
 [0,70, 65,36.9, 100,51, 130,48.4, 200,49, 395,50, 438,51.6, 550,49, 604,47.3, 700,49, 1000,49, 1025,42.1, 1055,33.4, 1090,24.8, 1133,17.9, 1177,14.4, 1242,13.1, 1785,11.8, 2089,13.5, 2523,11.4, 3000,12.5, 3435,12.2, 4000,12.8, 4433,13.1, 5000,13, 5041,24.8, 5085,38.6, 5128,43, 5172,44.7, 5302,50.3, 5432,49, 5650,49, 5758,46, 5867,49.7, 6000,47.3],
 [0,7, 70,14.4, 100,12.2, 150,11.4, 200,11.5, 350,13.5, 500,12.5, 800,11.5, 1000,12.7, 1046,24.8, 1090,39.5, 1155,45.6, 1242,48.9, 1394,49.5, 1524,50.1, 1650,49.5, 1785,50.3, 1872,47.7, 1937,46, 2002,47.3, 2032,37.8, 2066,26.5, 2110,19.6, 2154,15.7, 2219,14, 2500,12.5, 3000,11.5, 3500,12, 4000,12, 4564,11, 5000,12.5, 5323,10.5, 5600,12.5, 6000,12],
 [0,7, 70,16, 100,12, 150,13, 300,12.5, 500,13.5, 1000,12.5, 1500,12, 2000,13.8, 2045,35.2, 2089,42, 2154,46.9, 2197,48.2, 2349,49, 2523,51.6, 2697,49, 2740,47.7, 2870,49, 2935,51.6, 2992,50.3, 3043,33.4, 3087,21.3, 3130,17.4, 3217,14, 3304,12.2, 3565,13, 4000,14, 4086,15.7, 4216,14, 4500,12.5, 5000,12, 5200,13.5, 5500,12.5, 6000,12],
 [0,7, 70,15, 100,12.5, 150,13.5, 300,13, 500,13, 800,12.5, 1000,12, 1500,13, 2000,12.5, 2500,11.5, 3000,12, 3043,24.8, 3087,36, 3130,41.2, 3196,46.4, 3252,50.8, 3348,48.2, 3478,49, 3609,51.6, 3717,48.9, 3825,50.8, 3955,50.1, 4000,48.2, 4042,35.2, 4086,22.2, 4152,15.3, 4216,13.5, 4347,12.2, 4564,11.8, 4868,13.5, 5172,14.8, 5302,13.5, 5736,13.5, 6000,13.5],
 [0,7.5, 70,16, 100,12.5, 150,13, 300,12.5, 500,12.5, 1000,12.5, 1200,13.5, 2000,13, 2500,11, 2800,13, 3000,12.5, 3300,14, 3500,12, 4000,12.5, 4040,24.8, 4075,36.9, 4108,42, 4173,45.6, 4260,47.3, 4347,49.7, 4433,49, 4607,50.8, 4716,48.6, 4825,47.7, 4933,49.2, 4985,48.6, 5041,35.2, 5085,23, 5137,15.7, 5215,13.5, 5302,12.7, 5519,11.8, 5736,12.7, 6000,14]];
const P16 = [
 [0,70, 70,30, 100,24, 150,21, 300,20.5, 600,19.5, 900,20.8, 1200,19.8, 1500,20.6, 1800,19.4, 2100,20.5, 2400,19.7, 2700,20.9, 3000,20, 3300,19.4, 3600,20.7, 3900,19.8, 4200,20.5, 4500,19.6, 4800,20.8, 5100,19.9, 5400,20.4, 5700,19.5, 6000,20.2],
 [0,7.5, 70,16, 100,18, 150,19.5, 400,20.3, 700,19.6, 1000,20.5, 1300,19.5, 1600,20.8, 1900,20, 2200,19.3, 2500,20.4, 2800,19.8, 3100,20.7, 3400,19.6, 3700,20.3, 4000,21.2, 4300,19.9, 4600,20.5, 4900,19.4, 5200,20.6, 5500,19.8, 5800,20.9, 6000,20],
 [0,7.5, 70,17, 100,19, 150,20, 350,19.4, 650,20.6, 950,19.7, 1250,20.4, 1550,19.5, 1850,20.9, 2150,20, 2450,19.4, 2750,20.6, 3050,19.6, 3350,20.8, 3650,19.9, 3950,20.4, 4250,19.3, 4550,20.6, 4850,20, 5150,19.5, 5450,20.7, 5750,19.8, 6000,20.3],
 [0,7, 70,16.5, 100,18.5, 150,20, 450,20.5, 750,19.5, 1050,20.3, 1350,19.9, 1650,19.3, 1950,20.7, 2250,20, 2550,20.6, 2850,19.5, 3150,20.2, 3450,19.7, 3750,20.8, 4050,19.6, 4350,20.3, 4650,19.8, 4950,20.6, 5250,19.4, 5550,20.2, 5850,19.7, 6000,20.1],
 [0,8, 70,17, 100,19, 150,19.6, 500,20.4, 800,19.8, 1100,20.6, 1400,19.6, 1700,20.2, 2000,19.5, 2300,20.8, 2600,19.7, 2900,20.3, 3200,19.5, 3500,20.5, 3800,20, 4100,19.4, 4400,20.7, 4700,19.8, 5000,20.4, 5300,19.6, 5600,20.8, 5900,19.9, 6000,20]];
const P17 = [
 [0,70, 48,11, 91,10.7, 113,4, 156,1, 300,0.3, 1000,0.3, 1046,11, 1090,20.9, 1177,24, 1220,25.6, 1400,25, 1654,27.4, 1900,25, 2100,26, 2349,23.5, 2600,25.5, 2800,24.5, 3065,27.8, 3260,25.6, 3500,25, 3800,24.5, 4042,24, 4250,25.5, 4450,24.5, 4694,26.5, 4900,25, 5000,25, 5041,11.8, 5106,1.8, 5172,0.5, 6000,0.3],
 [0,7, 48,20, 91,22.5, 113,21.5, 156,24.8, 300,25, 352,27.8, 500,25.5, 700,24.8, 900,26, 1000,25.5, 1046,12.7, 1103,1.4, 1155,0.5, 2000,0.4, 2045,11.8, 2089,21.7, 2132,24.4, 2400,25.5, 2700,24.8, 3000,25.5, 3200,25, 3435,26.5, 3674,22.4, 3891,27.5, 4100,25, 4433,24.4, 4700,25.5, 5000,25, 5258,26.7, 5500,25, 5800,25.8, 6000,26.5],
 [0,7.5, 48,21, 91,22, 156,25, 300,26.5, 500,24.5, 786,23, 1000,26, 1100,27.5, 1350,25.5, 1600,27.4, 1800,25, 2002,25.5, 2045,12.7, 2102,1.4, 2154,0.5, 3000,0.4, 3043,11, 3087,22.2, 3130,25.2, 3300,26, 3500,25.5, 3800,24.5, 4000,25, 4130,27.2, 4400,25.5, 4700,26, 5000,26.5, 5389,24, 5700,25.5, 6000,23.5],
 [0,7, 48,20, 91,23, 156,26.5, 300,25, 600,26.5, 786,27.4, 1000,25.5, 1300,26, 1600,25.3, 1741,27, 2000,25.5, 2300,26.5, 2545,27, 2800,26, 3000,26, 3052,11, 3100,1.4, 3152,0.5, 4000,0.4, 4042,16, 4086,21.3, 4173,24, 4260,25.2, 4433,27.5, 4564,25.2, 4868,24.4, 5100,25.5, 5302,27, 5500,25.5, 5736,25.6, 6000,26],
 [0,7.5, 48,19, 91,22.5, 113,24.4, 156,23.5, 300,24.6, 500,24.5, 743,25.6, 1000,24.5, 1068,28.2, 1200,25, 1546,22.6, 1800,24.5, 2000,27.4, 2200,25, 2500,24, 2800,24.5, 3000,25.5, 3300,25, 3500,25.5, 3674,28.2, 3800,26, 4000,24.8, 4051,12.7, 4095,1.8, 4152,0.5, 5000,0.4, 5020,11.8, 5085,22.2, 5172,25.2, 5302,24, 5500,25.5, 5736,25.2, 6000,24.8]];
const P18 = [
 [0,70, 65,70, 95,100, 1000,100, 1025,93, 1060,50, 1100,12, 1140,2.5, 1170,0.2, 5000,0.2, 5025,8, 5062,50, 5100,88, 5130,98, 5165,100, 6000,100],
 [0,8, 65,8, 95,0.1, 1000,0.1, 1025,8, 1062,50, 1100,88, 1130,98, 1165,100, 2000,100, 2025,93, 2060,50, 2100,12, 2140,2.5, 2170,0.1, 6000,0.1],
 [0,7.6, 65,7.6, 95,0.1, 2000,0.1, 2025,8, 2062,50, 2100,88, 2130,98, 2165,100, 3000,100, 3025,93, 3060,50, 3100,12, 3140,2.5, 3170,0.1, 6000,0.1],
 [0,7.4, 65,7.4, 95,0.1, 3000,0.1, 3025,8, 3062,50, 3100,88, 3130,98, 3165,100, 4000,100, 4025,93, 4060,50, 4100,12, 4140,2.5, 4170,0.1, 6000,0.1],
 [0,8.2, 65,8.2, 95,0.1, 4000,0.1, 4025,8, 4062,50, 4100,88, 4130,98, 4165,100, 5000,100, 5025,93, 5060,50, 5100,12, 5140,2.5, 5170,0.1, 6000,0.1]];
const P19 = [
 [0,70, 70,57, 100,79, 150,83, 250,84.5, 500,83.5, 750,84.6, 1000,84, 1040,72, 1080,40, 1120,13, 1170,6, 1250,4, 2000,4.2, 3000,3.8, 4000,4.1, 5000,4, 5040,16, 5080,48, 5120,74, 5170,82, 5250,84.5, 5500,83.6, 5750,84.8, 6000,84.2],
 [0,7.5, 70,11, 100,5.5, 150,4.3, 1000,4, 1040,16, 1080,48, 1120,74, 1170,82, 1250,84.3, 1500,83.5, 1750,84.6, 2000,84, 2040,72, 2080,40, 2120,13, 2170,6, 2250,4, 3000,4.1, 4000,3.8, 5000,4.2, 6000,4],
 [0,7.5, 70,10.5, 100,5.5, 150,4.3, 1000,4.1, 2000,3.9, 2040,16, 2080,48, 2120,74, 2170,82, 2250,84.6, 2500,83.7, 2750,84.9, 3000,84, 3040,72, 3080,40, 3120,13, 3170,6, 3250,4, 4000,4.1, 5000,3.8, 6000,4.1],
 [0,7, 70,11, 100,5.5, 150,4.3, 1000,3.9, 2000,4.1, 3000,4, 3040,16, 3080,48, 3120,74, 3170,82, 3250,84.2, 3500,84.9, 3750,83.8, 4000,84.7, 4040,72, 4080,40, 4120,13, 4170,6, 4250,4, 5000,4.1, 6000,3.9],
 [0,8, 70,12, 100,6, 150,4.3, 1000,4, 2000,4.1, 3000,3.9, 4000,4, 4040,16, 4080,48, 4120,74, 4170,82, 4250,83.8, 4500,84.6, 4750,83.6, 5000,84.3, 5040,72, 5080,40, 5120,13, 5170,6, 5250,4, 6000,4.1]];
const P20 = [
 [0,70, 70,44, 100,61, 150,62, 250,64.5, 500,62.5, 750,63.8, 1000,62.5, 1040,52, 1080,30, 1120,15, 1170,11, 1250,9.5, 2000,9.2, 3000,9.6, 4000,9, 5000,9.4, 5040,22, 5080,46, 5120,58, 5170,61.5, 5250,63.5, 5500,62.5, 5750,64, 6000,63],
 [0,7.5, 70,14, 100,10, 150,9.5, 1000,9.3, 1040,22, 1080,46, 1120,58, 1170,61.5, 1250,63, 1500,64, 1750,62.6, 2000,63.5, 2040,52, 2080,30, 2120,15, 2170,11, 2250,9.5, 3000,9.2, 4000,9.5, 5000,9, 6000,9.4],
 [0,7.5, 70,13.5, 100,10, 150,9.5, 1000,9.6, 2000,9.1, 2040,22, 2080,46, 2120,58, 2170,61.5, 2250,62.5, 2500,63.5, 2750,62, 3000,63, 3040,52, 3080,30, 3120,15, 3170,11, 3250,9.5, 4000,9.3, 5000,9.6, 6000,9.2],
 [0,7, 70,14, 100,10, 150,9.5, 1000,9.2, 2000,9.5, 3000,9.2, 3040,22, 3080,46, 3120,58, 3170,61.5, 3250,63, 3500,63.8, 3750,62.8, 4000,64.5, 4040,52, 4080,30, 4120,15, 4170,11, 4250,9.5, 5000,9.3, 6000,9.5],
 [0,8, 70,15, 100,10.5, 150,9.5, 1000,9.4, 2000,9.2, 3000,9.5, 4000,9.1, 4040,22, 4080,46, 4120,58, 4170,61.5, 4250,62.5, 4500,63.5, 4750,62.2, 5000,63.6, 5040,52, 5080,30, 5120,15, 5170,11, 5250,9.5, 6000,9.3]];
const P21 = [
 [0,70, 70,30, 100,40, 150,42, 250,40.5, 500,41.5, 750,40, 1000,41.2, 1040,33, 1080,24, 1120,18, 1170,16, 1250,15, 2000,14.6, 3000,15.2, 4000,14.5, 5000,14.9, 5040,25, 5080,34, 5120,38, 5170,40, 5250,41.5, 5500,40.2, 5750,41.5, 6000,40.5],
 [0,7.5, 70,17, 100,15, 150,15.5, 1000,14.7, 1040,25, 1080,34, 1120,38, 1170,40, 1250,41.5, 1500,40.5, 1750,41.8, 2000,40.8, 2040,33, 2080,24, 2120,18, 2170,16, 2250,15, 3000,14.6, 4000,15.1, 5000,14.7, 6000,15],
 [0,7.5, 70,16.5, 100,15, 150,15.3, 1000,15, 2000,14.8, 2040,25, 2080,34, 2120,38, 2170,40, 2250,40.8, 2500,41.6, 2750,40.2, 3000,41, 3040,33, 3080,24, 3120,18, 3170,16, 3250,15, 4000,14.6, 5000,15.2, 6000,14.8],
 [0,7, 70,17, 100,15, 150,15.3, 1000,14.9, 2000,15.2, 3000,14.7, 3040,25, 3080,34, 3120,38, 3170,40, 3250,41, 3500,42.2, 3750,40.6, 4000,41.5, 4040,33, 4080,24, 4120,18, 4170,16, 4250,15, 5000,14.8, 6000,15.1],
 [0,8, 70,18, 100,15.5, 150,15.2, 1000,14.8, 2000,15, 3000,15.2, 4000,14.6, 4040,25, 4080,34, 4120,38, 4170,40, 4250,41.2, 4500,40.3, 4750,41.8, 5000,40.6, 5040,33, 5080,24, 5120,18, 5170,16, 5250,15, 6000,14.7]];
const P22 = [
 [0,70, 70,20, 100,18, 150,20.5, 500,19.6, 1000,20.6, 1500,19.5, 2000,20.4, 2500,19.7, 3000,20.8, 3500,19.6, 4000,20.3, 4500,19.5, 5000,20.6, 5500,19.8, 6000,20.3],
 [0,7.5, 70,18, 100,20.5, 150,19.8, 500,20.5, 1000,19.4, 1500,20.7, 2000,19.8, 2500,20.4, 3000,19.5, 3500,20.6, 4000,19.7, 4500,20.8, 5000,19.6, 5500,20.4, 6000,19.8],
 [0,7.5, 70,18.5, 100,20.8, 150,20, 500,19.5, 1000,20.4, 1500,19.7, 2000,20.9, 2500,19.6, 3000,20.2, 3500,19.4, 4000,20.7, 4500,19.9, 5000,20.3, 5500,19.5, 6000,20.5],
 [0,7, 70,18, 100,20, 150,20.4, 500,20.2, 1000,19.7, 1500,20.5, 2000,19.4, 2500,20.6, 3000,19.9, 3500,20.8, 4000,19.5, 4500,20.2, 5000,19.8, 5500,20.6, 6000,19.7],
 [0,8, 70,19, 100,21, 150,19.6, 500,19.8, 1000,20.6, 1500,19.6, 2000,20.3, 2500,19.5, 3000,20.7, 3500,20, 4000,19.6, 4500,20.5, 5000,19.7, 5500,20.4, 6000,20]];
const P23 = [
 [0,70, 50,11, 90,10, 115,3, 160,0.5, 300,0.3, 1000,0.3, 1045,12, 1090,21.5, 1200,25, 1500,26.3, 2000,24.8, 2500,25.6, 3000,24.5, 3500,26, 4000,25.2, 4500,24.6, 5000,25.3, 5040,12, 5100,2, 5170,0.4, 6000,0.3],
 [0,7.5, 50,20, 90,22.5, 160,25, 500,25.8, 1000,24.8, 1045,12, 1100,1.5, 1160,0.4, 2000,0.4, 2045,12, 2090,22, 2150,24.6, 2500,25.7, 3000,24.8, 3500,25.5, 4000,24.6, 4500,26, 5000,24.9, 5500,25.6, 6000,24.9],
 [0,7.5, 50,21, 90,22, 160,25.2, 500,24.6, 1000,25.6, 1500,24.8, 2000,25.4, 2045,12, 2100,1.5, 2160,0.4, 3000,0.4, 3045,12, 3090,22, 3150,25, 3500,24.7, 4000,25.6, 4500,24.8, 5000,25.5, 5500,24.7, 6000,25.2],
 [0,7, 50,20, 90,23, 160,25.6, 500,25.2, 1000,24.7, 1500,25.6, 2000,24.8, 2500,25.5, 3000,25, 3045,12, 3100,1.5, 3160,0.4, 4000,0.4, 4045,14, 4090,21.5, 4200,24.5, 4500,25.8, 5000,25, 5500,25.4, 6000,24.8],
 [0,7.5, 50,19, 90,22.5, 160,24, 500,24.8, 1000,25.3, 1500,24.5, 2000,25.6, 2500,24.6, 3000,25.2, 3500,25.7, 4000,24.9, 4045,12, 4100,1.5, 4160,0.4, 5000,0.4, 5030,12, 5090,22, 5200,25, 5500,24.6, 6000,25.3]];
const P24 = [
 [0,70, 65,70, 95,100, 1000,100, 1025,92, 1058,50, 1095,12, 1130,2.5, 1165,0.1, 5000,0.1, 5025,8, 5060,50, 5095,88, 5125,98, 5160,100, 6000,100],
 [0,8, 65,8, 95,0.1, 1000,0.1, 1025,8, 1060,50, 1095,88, 1125,98, 1160,100, 2000,100, 2025,92, 2058,50, 2095,12, 2130,2.5, 2165,0.1, 6000,0.1],
 [0,7.6, 65,7.6, 95,0.1, 2000,0.1, 2025,8, 2060,50, 2095,88, 2125,98, 2160,100, 3000,100, 3025,92, 3058,50, 3095,12, 3130,2.5, 3165,0.1, 6000,0.1],
 [0,7.4, 65,7.4, 95,0.1, 3000,0.1, 3025,8, 3060,50, 3095,88, 3125,98, 3160,100, 4000,100, 4025,92, 4058,50, 4095,12, 4130,2.5, 4165,0.1, 6000,0.1],
 [0,8.2, 65,8.2, 95,0.1, 4000,0.1, 4025,8, 4060,50, 4095,88, 4125,98, 4160,100, 5000,100, 5025,92, 5058,50, 5095,12, 5130,2.5, 5165,0.1, 6000,0.1]];
const P25 = [
 [0,70, 70,57, 100,77, 150,80, 250,81.2, 500,80.4, 750,81.3, 1000,80.6, 1040,69, 1080,38, 1120,13, 1170,7, 1250,5, 2000,5.2, 3000,4.8, 4000,5.1, 5000,5, 5040,17, 5080,47, 5120,72, 5170,79, 5250,81, 5500,80.3, 5750,81.5, 6000,80.8],
 [0,7.5, 70,11, 100,6.5, 150,5.3, 1000,5, 1040,17, 1080,47, 1120,72, 1170,79, 1250,81.5, 1500,80.6, 1750,81.8, 2000,81, 2040,69, 2080,38, 2120,13, 2170,7, 2250,5, 3000,5.1, 4000,4.8, 5000,5.2, 6000,5],
 [0,7.5, 70,10.5, 100,6.5, 150,5.3, 1000,5.1, 2000,4.9, 2040,17, 2080,47, 2120,72, 2170,79, 2250,81.2, 2500,80.4, 2750,81.6, 3000,80.8, 3040,69, 3080,38, 3120,13, 3170,7, 3250,5, 4000,5.1, 5000,4.8, 6000,5.1],
 [0,7, 70,11, 100,6.5, 150,5.3, 1000,4.9, 2000,5.1, 3000,5, 3040,17, 3080,47, 3120,72, 3170,79, 3250,81.6, 3500,82.2, 3750,81.2, 4000,81.8, 4040,69, 4080,38, 4120,13, 4170,7, 4250,5, 5000,5.1, 6000,4.9],
 [0,8, 70,12, 100,7, 150,5.3, 1000,5, 2000,5.1, 3000,4.9, 4000,5, 4040,17, 4080,47, 4120,72, 4170,79, 4250,80.4, 4500,81.2, 4750,80.2, 5000,80.8, 5040,69, 5080,38, 5120,13, 5170,7, 5250,5, 6000,5.1]];
const P26 = [
 [0,70, 70,43, 100,58, 150,59.5, 250,60.8, 500,59.8, 750,60.6, 1000,59.7, 1040,50, 1080,29, 1120,15.5, 1170,11.5, 1250,10.2, 2000,9.8, 3000,10.2, 4000,9.7, 5000,10.1, 5040,22, 5080,44, 5120,55, 5170,58.5, 5250,60.5, 5500,59.6, 5750,61.2, 6000,60.4],
 [0,7.5, 70,14, 100,11, 150,10.3, 1000,10, 1040,22, 1080,44, 1120,55, 1170,58.5, 1250,60.3, 1500,61.2, 1750,60, 2000,61.5, 2040,50, 2080,29, 2120,15.5, 2170,11.5, 2250,10.2, 3000,9.8, 4000,10.2, 5000,9.8, 6000,10],
 [0,7.5, 70,13.5, 100,10.8, 150,10.3, 1000,10.2, 2000,9.9, 2040,22, 2080,44, 2120,55, 2170,58.5, 2250,60.2, 2500,60.9, 2750,59.6, 3000,60.6, 3040,50, 3080,29, 3120,15.5, 3170,11.5, 3250,10.2, 4000,9.9, 5000,10.2, 6000,9.8],
 [0,7, 70,14, 100,11, 150,10.3, 1000,9.9, 2000,10.1, 3000,10, 3040,22, 3080,44, 3120,55, 3170,58.5, 3250,60.2, 3500,61, 3750,59.8, 4000,60.8, 4040,50, 4080,29, 4120,15.5, 4170,11.5, 4250,10.2, 5000,9.9, 6000,10.2],
 [0,8, 70,15, 100,11.5, 150,10.3, 1000,10.1, 2000,10, 3000,9.9, 4000,10, 4040,22, 4080,44, 4120,55, 4170,58.5, 4250,60.6, 4500,61.4, 4750,60.2, 5000,61, 5040,50, 5080,29, 5120,15.5, 5170,11.5, 5250,10.2, 6000,9.9]];
const P27 = [
 [0,70, 70,28, 100,39, 150,41, 250,40, 500,40.8, 750,39.5, 1000,40.5, 1040,32, 1080,23.5, 1120,18, 1170,16, 1250,15.2, 2000,14.8, 3000,15.2, 4000,14.7, 5000,15, 5040,25, 5080,33, 5120,37, 5170,39, 5250,40.5, 5500,39.6, 5750,40.8, 6000,40],
 [0,7.5, 70,17, 100,15, 150,15.3, 1000,14.8, 1040,25, 1080,33, 1120,37, 1170,39, 1250,40.8, 1500,41.6, 1750,40.3, 2000,41.2, 2040,32, 2080,23.5, 2120,18, 2170,16, 2250,15.2, 3000,14.7, 4000,15.1, 5000,14.8, 6000,15],
 [0,7.5, 70,16.5, 100,15, 150,15.2, 1000,15.1, 2000,14.9, 2040,25, 2080,33, 2120,37, 2170,39, 2250,40.6, 2500,41.5, 2750,40.2, 3000,41, 3040,32, 3080,23.5, 3120,18, 3170,16, 3250,15.2, 4000,14.8, 5000,15.2, 6000,14.8],
 [0,7, 70,17, 100,15, 150,15.3, 1000,14.9, 2000,15.1, 3000,14.8, 3040,25, 3080,33, 3120,37, 3170,39, 3250,40.7, 3500,41.6, 3750,40.4, 4000,41.3, 4040,32, 4080,23.5, 4120,18, 4170,16, 4250,15.2, 5000,14.9, 6000,15.1],
 [0,8, 70,18, 100,15.5, 150,15.2, 1000,15, 2000,15.1, 3000,15, 4000,14.8, 4040,25, 4080,33, 4120,37, 4170,39, 4250,40.2, 4500,40.9, 4750,39.8, 5000,40.5, 5040,32, 5080,23.5, 5120,18, 5170,16, 5250,15.2, 6000,14.8]];
const P28 = [
 [0,70, 70,19, 100,17.5, 150,20.2, 500,20.5, 1000,19.6, 1500,20.4, 2000,19.5, 2500,20.6, 3000,19.8, 3500,20.5, 4000,19.6, 4500,20.7, 5000,19.7, 5500,20.3, 6000,19.8],
 [0,7.5, 70,18.5, 100,20.5, 150,20, 500,19.5, 1000,20.5, 1500,19.8, 2000,20.6, 2500,19.4, 3000,20.5, 3500,19.7, 4000,20.8, 4500,19.5, 5000,20.4, 5500,19.6, 6000,20.5],
 [0,7.5, 70,18, 100,20.3, 150,19.8, 500,20.4, 1000,19.6, 1500,20.8, 2000,19.7, 2500,20.3, 3000,19.5, 3500,20.6, 4000,19.8, 4500,20.2, 5000,19.4, 5500,20.7, 6000,19.9],
 [0,7, 70,17.5, 100,20, 150,20.3, 500,19.7, 1000,20.3, 1500,19.5, 2000,20.5, 2500,19.8, 3000,20.7, 3500,19.5, 4000,20.4, 4500,19.6, 5000,20.6, 5500,19.7, 6000,20.2],
 [0,8, 70,18.5, 100,21, 150,19.7, 500,20.2, 1000,19.8, 1500,20.6, 2000,19.6, 2500,20.5, 3000,19.7, 3500,20.3, 4000,19.5, 4500,20.6, 5000,19.9, 5500,20.3, 6000,20.1]];
const P29 = [
 [0,70, 50,11, 90,10.2, 115,3, 160,0.5, 300,0.3, 1000,0.3, 1045,12, 1090,21.5, 1200,25, 1500,24.6, 2000,25.6, 2500,24.7, 3000,25.4, 3500,24.5, 4000,25.8, 4500,24.9, 5000,25.1, 5040,12, 5100,2, 5170,0.4, 6000,0.3],
 [0,7.5, 50,20, 90,22.5, 160,25.2, 500,24.7, 1000,25.5, 1045,12, 1100,1.5, 1160,0.4, 2000,0.4, 2045,12, 2090,22, 2150,25, 2500,24.6, 3000,25.6, 3500,24.8, 4000,25.4, 4500,24.7, 5000,25.5, 5500,24.8, 6000,25.4],
 [0,7.5, 50,21, 90,22, 160,24.8, 500,25.6, 1000,24.8, 1500,25.5, 2000,24.9, 2045,12, 2100,1.5, 2160,0.4, 3000,0.4, 3045,12, 3090,22, 3150,25, 3500,25.6, 4000,24.7, 4500,25.5, 5000,24.8, 5500,25.6, 6000,24.8],
 [0,7, 50,20, 90,23, 160,25.3, 500,24.9, 1000,25.6, 1500,24.7, 2000,25.5, 2500,24.8, 3000,25.3, 3045,12, 3100,1.5, 3160,0.4, 4000,0.4, 4045,14, 4090,21.5, 4200,24.8, 4500,25.4, 5000,24.6, 5500,25.5, 6000,25.1],
 [0,7.5, 50,19, 90,22.5, 160,24.5, 500,25.3, 1000,24.7, 1500,25.6, 2000,24.8, 2500,25.5, 3000,24.7, 3500,25.4, 4000,25.2, 4045,12, 4100,1.5, 4160,0.4, 5000,0.4, 5030,12, 5090,22, 5200,25.2, 5500,25.6, 6000,24.8]];
const P30 = [
 [0,70, 65,70, 95,100, 1000,100, 1025,92, 1058,50, 1095,12, 1130,2.5, 1165,0.1, 5000,0.1, 5025,8, 5060,50, 5095,88, 5125,98, 5160,100, 6000,100],
 [0,8, 65,8, 95,0.1, 1000,0.1, 1025,8, 1060,50, 1095,88, 1125,98, 1160,100, 2000,100, 2025,92, 2058,50, 2095,12, 2130,2.5, 2165,0.1, 6000,0.1],
 [0,7.6, 65,7.6, 95,0.1, 2000,0.1, 2025,8, 2060,50, 2095,88, 2125,98, 2160,100, 3000,100, 3025,92, 3058,50, 3095,12, 3130,2.5, 3165,0.1, 6000,0.1],
 [0,7.4, 65,7.4, 95,0.1, 3000,0.1, 3025,8, 3060,50, 3095,88, 3125,98, 3160,100, 4000,100, 4025,92, 4058,50, 4095,12, 4130,2.5, 4165,0.1, 6000,0.1],
 [0,8.2, 65,8.2, 95,0.1, 4000,0.1, 4025,8, 4060,50, 4095,88, 4125,98, 4160,100, 5000,100, 5025,92, 5058,50, 5095,12, 5130,2.5, 5165,0.1, 6000,0.1]];
const P31 = [
 [0,70, 70,57, 100,77, 150,79.5, 250,80.6, 500,79.8, 750,80.8, 1000,80, 1040,68, 1080,37, 1120,13, 1170,7, 1250,5, 2000,5.1, 3000,4.9, 4000,5.2, 5000,5, 5040,17, 5080,47, 5120,71, 5170,78, 5250,80.5, 5500,79.7, 5750,80.9, 6000,80.2],
 [0,7.5, 70,11, 100,6.5, 150,5.3, 1000,5, 1040,17, 1080,47, 1120,71, 1170,78, 1250,80.3, 1500,79.5, 1750,80.8, 2000,80, 2040,68, 2080,37, 2120,13, 2170,7, 2250,5, 3000,5.2, 4000,4.9, 5000,5.1, 6000,5],
 [0,7.5, 70,10.5, 100,6.5, 150,5.3, 1000,5.1, 2000,4.9, 2040,17, 2080,47, 2120,71, 2170,78, 2250,80.4, 2500,81.2, 2750,80, 3000,80.9, 3040,68, 3080,37, 3120,13, 3170,7, 3250,5, 4000,5, 5000,4.9, 6000,5.1],
 [0,7, 70,11, 100,6.5, 150,5.3, 1000,4.9, 2000,5.1, 3000,5, 3040,17, 3080,47, 3120,71, 3170,78, 3250,80.2, 3500,80.9, 3750,79.8, 4000,80.6, 4040,68, 4080,37, 4120,13, 4170,7, 4250,5, 5000,5.1, 6000,4.9],
 [0,8, 70,12, 100,7, 150,5.3, 1000,5, 2000,5.1, 3000,4.9, 4000,5, 4040,17, 4080,47, 4120,71, 4170,78, 4250,80.1, 4500,80.8, 4750,79.6, 5000,80.5, 5040,68, 5080,37, 5120,13, 5170,7, 5250,5, 6000,5]];
const P32 = [
 [0,70, 70,44, 100,58, 150,59.5, 250,60.5, 500,59.6, 750,60.8, 1000,60, 1040,50, 1080,29, 1120,15.5, 1170,11.5, 1250,10.2, 2000,10, 3000,9.8, 4000,10.2, 5000,10, 5040,22, 5080,44, 5120,55, 5170,58.5, 5250,60.4, 5500,61, 5750,60, 6000,60.6],
 [0,7.5, 70,14, 100,11, 150,10.3, 1000,10, 1040,22, 1080,44, 1120,55, 1170,58.5, 1250,60, 1500,60.8, 1750,59.7, 2000,60.5, 2040,50, 2080,29, 2120,15.5, 2170,11.5, 2250,10.2, 3000,10.1, 4000,9.8, 5000,10.2, 6000,9.9],
 [0,7.5, 70,13.5, 100,10.8, 150,10.3, 1000,10.1, 2000,9.8, 2040,22, 2080,44, 2120,55, 2170,58.5, 2250,60.4, 2500,61, 2750,59.8, 3000,60.7, 3040,50, 3080,29, 3120,15.5, 3170,11.5, 3250,10.2, 4000,10, 5000,9.8, 6000,10.1],
 [0,7, 70,14, 100,11, 150,10.3, 1000,9.9, 2000,10.2, 3000,9.9, 3040,22, 3080,44, 3120,55, 3170,58.5, 3250,60.3, 3500,61.3, 3750,60.1, 4000,60.9, 4040,50, 4080,29, 4120,15.5, 4170,11.5, 4250,10.2, 5000,10, 6000,10.1],
 [0,8, 70,15, 100,11.5, 150,10.3, 1000,10, 2000,10.1, 3000,9.9, 4000,10.1, 4040,22, 4080,44, 4120,55, 4170,58.5, 4250,60.2, 4500,61, 4750,59.8, 5000,60.8, 5040,50, 5080,29, 5120,15.5, 5170,11.5, 5250,10.2, 6000,10]];
const P33 = [
 [0,70, 70,28, 100,39, 150,41, 250,40.3, 500,39.6, 750,40.6, 1000,39.8, 1040,32, 1080,23.5, 1120,18, 1170,16, 1250,15.2, 2000,15, 3000,14.8, 4000,15.2, 5000,14.9, 5040,25, 5080,33, 5120,37, 5170,39, 5250,40.3, 5500,39.5, 5750,40.6, 6000,39.8],
 [0,7.5, 70,17, 100,15, 150,15.3, 1000,14.9, 1040,25, 1080,33, 1120,37, 1170,39, 1250,40.5, 1500,41.3, 1750,40.1, 2000,40.8, 2040,32, 2080,23.5, 2120,18, 2170,16, 2250,15.2, 3000,14.8, 4000,15, 5000,15.1, 6000,14.9],
 [0,7.5, 70,16.5, 100,15, 150,15.2, 1000,15, 2000,14.8, 2040,25, 2080,33, 2120,37, 2170,39, 2250,40.2, 2500,41, 2750,39.8, 3000,40.5, 3040,32, 3080,23.5, 3120,18, 3170,16, 3250,15.2, 4000,15, 5000,14.8, 6000,15.1],
 [0,7, 70,17, 100,15, 150,15.3, 1000,15.1, 2000,14.9, 3000,15, 3040,25, 3080,33, 3120,37, 3170,39, 3250,40.6, 3500,41.5, 3750,40.2, 4000,41, 4040,32, 4080,23.5, 4120,18, 4170,16, 4250,15.2, 5000,15, 6000,14.8],
 [0,8, 70,18, 100,15.5, 150,15.2, 1000,14.8, 2000,15, 3000,15.1, 4000,14.9, 4040,25, 4080,33, 4120,37, 4170,39, 4250,40.4, 4500,41.2, 4750,40, 5000,40.8, 5040,32, 5080,23.5, 5120,18, 5170,16, 5250,15.2, 6000,15]];
const P34 = [
 [0,70, 70,19, 100,17.5, 150,20, 500,19.7, 1000,20.5, 1500,19.6, 2000,20.6, 2500,19.5, 3000,20.3, 3500,19.8, 4000,20.6, 4500,19.5, 5000,20.4, 5500,19.7, 6000,20.5],
 [0,7.5, 70,18.5, 100,20.4, 150,19.8, 500,20.6, 1000,19.5, 1500,20.4, 2000,19.7, 2500,20.7, 3000,19.6, 3500,20.3, 4000,19.5, 4500,20.6, 5000,19.8, 5500,20.5, 6000,19.7],
 [0,7.5, 70,18, 100,20.6, 150,20.1, 500,19.6, 1000,20.7, 1500,19.8, 2000,20.3, 2500,19.5, 3000,20.6, 3500,19.7, 4000,20.4, 4500,19.8, 5000,20.7, 5500,19.6, 6000,20.2],
 [0,7, 70,17.5, 100,19.8, 150,20.4, 500,20.3, 1000,19.6, 1500,20.5, 2000,19.8, 2500,20.4, 3000,19.5, 3500,20.7, 4000,19.9, 4500,20.3, 5000,19.5, 5500,20.6, 6000,19.9],
 [0,8, 70,18.5, 100,21, 150,19.6, 500,19.9, 1000,20.4, 1500,19.7, 2000,20.5, 2500,19.8, 3000,20.4, 3500,19.6, 4000,20.5, 4500,19.7, 5000,20.3, 5500,19.8, 6000,20.4]];
const P35 = [
 [0,70, 50,11, 90,10.5, 115,3, 160,0.5, 300,0.3, 1000,0.3, 1045,12, 1090,21.5, 1200,25.2, 1500,25.7, 2000,24.7, 2500,25.5, 3000,24.8, 3500,25.6, 4000,24.6, 4500,25.5, 5000,25, 5040,12, 5100,2, 5170,0.4, 6000,0.3],
 [0,7.5, 50,20, 90,22.5, 160,24.8, 500,25.5, 1000,24.9, 1045,12, 1100,1.5, 1160,0.4, 2000,0.4, 2045,12, 2090,22, 2150,24.8, 2500,25.5, 3000,24.6, 3500,25.6, 4000,24.8, 4500,25.4, 5000,24.7, 5500,25.5, 6000,25],
 [0,7.5, 50,21, 90,22, 160,25.4, 500,24.7, 1000,25.4, 1500,24.6, 2000,25.3, 2045,12, 2100,1.5, 2160,0.4, 3000,0.4, 3045,12, 3090,22, 3150,25.1, 3500,24.6, 4000,25.5, 4500,24.7, 5000,25.6, 5500,24.9, 6000,25.3],
 [0,7, 50,20, 90,23, 160,25.1, 500,25.6, 1000,24.8, 1500,25.5, 2000,24.7, 2500,25.6, 3000,24.9, 3045,12, 3100,1.5, 3160,0.4, 4000,0.4, 4045,14, 4090,21.5, 4200,24.6, 4500,25.5, 5000,24.8, 5500,25.6, 6000,24.9],
 [0,7.5, 50,19, 90,22.5, 160,24.3, 500,25, 1000,25.6, 1500,24.8, 2000,25.4, 2500,24.7, 3000,25.5, 3500,24.8, 4000,25.3, 4045,12, 4100,1.5, 4160,0.4, 5000,0.4, 5030,12, 5090,22, 5200,24.9, 5500,25.5, 6000,24.7]];
const P36 = [
 [0,70, 65,70, 95,100, 1000,100, 1025,92, 1058,50, 1095,12, 1130,2.5, 1165,0.1, 5000,0.1, 5025,8, 5060,50, 5095,88, 5125,98, 5160,100, 6000,100],
 [0,8, 65,8, 95,0.1, 1000,0.1, 1025,8, 1060,50, 1095,88, 1125,98, 1160,100, 2000,100, 2025,92, 2058,50, 2095,12, 2130,2.5, 2165,0.1, 6000,0.1],
 [0,7.6, 65,7.6, 95,0.1, 2000,0.1, 2025,8, 2060,50, 2095,88, 2125,98, 2160,100, 3000,100, 3025,92, 3058,50, 3095,12, 3130,2.5, 3165,0.1, 6000,0.1],
 [0,7.4, 65,7.4, 95,0.1, 3000,0.1, 3025,8, 3060,50, 3095,88, 3125,98, 3160,100, 4000,100, 4025,92, 4058,50, 4095,12, 4130,2.5, 4165,0.1, 6000,0.1],
 [0,8.2, 65,8.2, 95,0.1, 4000,0.1, 4025,8, 4060,50, 4095,88, 4125,98, 4160,100, 5000,100, 5025,92, 5058,50, 5095,12, 5130,2.5, 5165,0.1, 6000,0.1]];
const P37 = [
 [0,70, 70,56, 100,77, 150,79.5, 250,80.5, 500,79.9, 750,80.7, 1000,80.1, 1040,68, 1080,37, 1120,13, 1170,7, 1250,5, 2000,5, 3000,5.1, 4000,4.9, 5000,5.1, 5040,17, 5080,47, 5120,71, 5170,78, 5250,80.3, 5500,79.6, 5750,80.6, 6000,79.9],
 [0,7.5, 70,11, 100,6.5, 150,5.3, 1000,5, 1040,17, 1080,47, 1120,71, 1170,78, 1250,80.6, 1500,79.7, 1750,80.9, 2000,80.2, 2040,68, 2080,37, 2120,13, 2170,7, 2250,5, 3000,5, 4000,5.1, 5000,4.9, 6000,5],
 [0,7.5, 70,10.5, 100,6.5, 150,5.3, 1000,5.1, 2000,5, 2040,17, 2080,47, 2120,71, 2170,78, 2250,80.5, 2500,81.1, 2750,80, 3000,80.8, 3040,68, 3080,37, 3120,13, 3170,7, 3250,5, 4000,4.9, 5000,5.1, 6000,5],
 [0,7, 70,11, 100,6.5, 150,5.3, 1000,4.9, 2000,5.1, 3000,5, 3040,17, 3080,47, 3120,71, 3170,78, 3250,80.2, 3500,80.8, 3750,79.7, 4000,80.5, 4040,68, 4080,37, 4120,13, 4170,7, 4250,5, 5000,5, 6000,5.1],
 [0,8, 70,12, 100,7, 150,5.3, 1000,5, 2000,4.9, 3000,5.1, 4000,5, 4040,17, 4080,47, 4120,71, 4170,78, 4250,79.9, 4500,80.6, 4750,79.5, 5000,80.3, 5040,68, 5080,37, 5120,13, 5170,7, 5250,5, 6000,4.9]];
const P38 = [
 [0,70, 70,43, 100,58, 150,59.5, 250,60.3, 500,59.5, 750,60.6, 1000,59.8, 1040,50, 1080,29, 1120,15.5, 1170,11.5, 1250,10.2, 2000,10.1, 3000,9.9, 4000,10, 5000,10.2, 5040,22, 5080,44, 5120,55, 5170,58.5, 5250,60.2, 5500,60.9, 5750,59.8, 6000,60.3],
 [0,7.5, 70,14, 100,11, 150,10.3, 1000,10, 1040,22, 1080,44, 1120,55, 1170,58.5, 1250,60.5, 1500,61.2, 1750,60, 2000,60.8, 2040,50, 2080,29, 2120,15.5, 2170,11.5, 2250,10.2, 3000,9.9, 4000,10.1, 5000,9.8, 6000,10],
 [0,7.5, 70,13.5, 100,10.8, 150,10.3, 1000,10, 2000,10.1, 2040,22, 2080,44, 2120,55, 2170,58.5, 2250,60.1, 2500,60.8, 2750,59.6, 3000,60.5, 3040,50, 3080,29, 3120,15.5, 3170,11.5, 3250,10.2, 4000,10.1, 5000,9.9, 6000,10],
 [0,7, 70,14, 100,11, 150,10.3, 1000,10.1, 2000,9.9, 3000,10, 3040,22, 3080,44, 3120,55, 3170,58.5, 3250,60.4, 3500,61.1, 3750,59.9, 4000,60.7, 4040,50, 4080,29, 4120,15.5, 4170,11.5, 4250,10.2, 5000,10, 6000,9.9],
 [0,8, 70,15, 100,11.5, 150,10.3, 1000,9.9, 2000,10, 3000,10.1, 4000,9.9, 4040,22, 4080,44, 4120,55, 4170,58.5, 4250,60.3, 4500,61, 4750,59.7, 5000,60.6, 5040,50, 5080,29, 5120,15.5, 5170,11.5, 5250,10.2, 6000,10.1]];
const P39 = [
 [0,70, 70,28, 100,39, 150,40.6, 250,40.1, 500,40.8, 750,39.7, 1000,40.4, 1040,32, 1080,23.5, 1120,18, 1170,16, 1250,15.2, 2000,14.9, 3000,15.1, 4000,14.8, 5000,15, 5040,25, 5080,33, 5120,37, 5170,39, 5250,40.4, 5500,39.7, 5750,40.7, 6000,40.1],
 [0,7.5, 70,17, 100,15, 150,15.3, 1000,15, 1040,25, 1080,33, 1120,37, 1170,39, 1250,40.4, 1500,41.1, 1750,40, 2000,40.8, 2040,32, 2080,23.5, 2120,18, 2170,16, 2250,15.2, 3000,15, 4000,14.9, 5000,15.1, 6000,15],
 [0,7.5, 70,16.5, 100,15, 150,15.2, 1000,14.9, 2000,15.1, 2040,25, 2080,33, 2120,37, 2170,39, 2250,40.6, 2500,41.3, 2750,40.1, 3000,40.9, 3040,32, 3080,23.5, 3120,18, 3170,16, 3250,15.2, 4000,15, 5000,14.9, 6000,15],
 [0,7, 70,17, 100,15, 150,15.3, 1000,15.1, 2000,14.8, 3000,15, 3040,25, 3080,33, 3120,37, 3170,39, 3250,40.3, 3500,41.2, 3750,40, 4000,40.7, 4040,32, 4080,23.5, 4120,18, 4170,16, 4250,15.2, 5000,15.1, 6000,14.9],
 [0,8, 70,18, 100,15.5, 150,15.2, 1000,15, 2000,15, 3000,14.9, 4000,15.1, 4040,25, 4080,33, 4120,37, 4170,39, 4250,40.2, 4500,41, 4750,39.8, 5000,40.6, 5040,32, 5080,23.5, 5120,18, 5170,16, 5250,15.2, 6000,15]];
const P40 = [
 [0,70, 70,19, 100,17.5, 150,20.3, 500,19.8, 1000,20.6, 1500,19.6, 2000,20.4, 2500,19.7, 3000,20.5, 3500,19.6, 4000,20.4, 4500,19.8, 5000,20.6, 5500,19.6, 6000,20.3],
 [0,7.5, 70,18.5, 100,20.5, 150,19.9, 500,20.4, 1000,19.6, 1500,20.5, 2000,19.8, 2500,20.6, 3000,19.5, 3500,20.4, 4000,19.7, 4500,20.6, 5000,19.8, 5500,20.3, 6000,19.7],
 [0,7.5, 70,18, 100,20.4, 150,20, 500,19.6, 1000,20.4, 1500,19.7, 2000,20.7, 2500,19.6, 3000,20.4, 3500,19.8, 4000,20.6, 4500,19.5, 5000,20.2, 5500,19.8, 6000,20.5],
 [0,7, 70,17.5, 100,19.9, 150,20.4, 500,20.1, 1000,19.8, 1500,20.6, 2000,19.6, 2500,20.3, 3000,19.8, 3500,20.6, 4000,19.6, 4500,20.4, 5000,19.7, 5500,20.5, 6000,19.8],
 [0,8, 70,18.5, 100,20.8, 150,19.6, 500,20, 1000,20.3, 1500,19.7, 2000,20.4, 2500,19.6, 3000,20.6, 3500,19.8, 4000,20.2, 4500,19.6, 5000,20.5, 5500,19.8, 6000,20.2]];
const P41 = [
 [0,70, 50,11, 90,10.4, 115,3, 160,0.5, 300,0.3, 1000,0.3, 1045,12, 1090,21.5, 1200,24.9, 1500,25.5, 2000,24.8, 2500,25.6, 3000,24.9, 3500,25.4, 4000,24.7, 4500,25.6, 5000,24.9, 5040,12, 5100,2, 5170,0.4, 6000,0.3],
 [0,7.5, 50,20, 90,22.5, 160,25, 500,25.6, 1000,24.8, 1045,12, 1100,1.5, 1160,0.4, 2000,0.4, 2045,12, 2090,22, 2150,25.1, 2500,24.7, 3000,25.5, 3500,24.8, 4000,25.6, 4500,24.9, 5000,25.4, 5500,24.8, 6000,25.3],
 [0,7.5, 50,21, 90,22, 160,25.2, 500,24.8, 1000,25.5, 1500,24.7, 2000,25.6, 2045,12, 2100,1.5, 2160,0.4, 3000,0.4, 3045,12, 3090,22, 3150,24.9, 3500,25.6, 4000,24.8, 4500,25.4, 5000,24.7, 5500,25.5, 6000,24.9],
 [0,7, 50,20, 90,23, 160,25.4, 500,24.9, 1000,25.5, 1500,24.8, 2000,25.4, 2500,24.7, 3000,25.6, 3045,12, 3100,1.5, 3160,0.4, 4000,0.4, 4045,14, 4090,21.5, 4200,24.7, 4500,25.6, 5000,24.9, 5500,25.3, 6000,25],
 [0,7.5, 50,19, 90,22.5, 160,24.6, 500,25.3, 1000,24.8, 1500,25.6, 2000,24.9, 2500,25.5, 3000,24.8, 3500,25.6, 4000,25, 4045,12, 4100,1.5, 4160,0.4, 5000,0.4, 5030,12, 5090,22, 5200,25.1, 5500,24.7, 6000,25.4]];

const panels = [P00,P01,P02,P03,P04,P05,P06,P07,P08,P09,P10,P11,P12,P13,P14,P15,P16,P17,P18,P19,P20,
  P21,P22,P23,P24,P25,P26,P27,P28,P29,P30,P31,P32,P33,P34,P35,P36,P37,P38,P39,P40,P41];

// layout (reference pixels x 0.819)
const S = 0.819;
const cellW = 1000*S, cellH = 410;
const mL = 125.6*S, mR = 100*S, mT = 49;
const axH = 315;
const mB = cellH - mT - axH;
const fs = 11.4, titleFs = 13.65;
const legW = 82, legH = 89, legPad = 6;
const rowCenters = [9, 26.5, 44, 61.5, 79];

const fig = document.getElementById("fig");

function makeLegend(loc) {
  const axL = mL, axR = cellW - mR, axT = mT, axB = mT + axH;
  let left = axR - legPad - legW, top;
  if (loc === "ur") top = axT + legPad;
  else if (loc === "lr") top = axB - legPad - legH;
  else top = (axT + axB)/2 - legH/2;
  if (loc === "cl") left = axL + legPad;
  const d = document.createElement("div");
  d.className = "legend";
  d.style.left = Math.round(left) + "px"; d.style.top = Math.round(top) + "px";
  series.forEach((s, k) => {
    const h = document.createElement("div");
    h.className = "h"; h.style.background = lineColors[k];
    h.style.top = Math.round(rowCenters[k] - 2) + "px";
    d.appendChild(h);
    const t = document.createElement("div");
    t.className = "t"; t.textContent = s;
    t.style.top = Math.round(rowCenters[k] - 7) + "px";
    d.appendChild(t);
  });
  return d;
}

panels.forEach((p, i) => {
  const row = Math.floor(i / 5), col = i % 5;
  const title = `Averaged Color Values ir:1.0 w:${wValues[Math.floor(i / 6)]} sn:${snValues[i % 6]} cn:0.4`;
  const data = [];
  p.forEach((arr, k) => {
    for (let j = 0; j < arr.length; j += 2) data.push({t: arr[j], v: arr[j + 1], c: series[k]});
  });
  const svg = Plot.plot({
    width: cellW, height: cellH,
    marginLeft: mL, marginRight: mR, marginTop: mT, marginBottom: mB,
    x: {domain: [-300, 6300]},
    y: {domain: [0, 100]},
    color: {domain: series, range: lineColors},
    style: {fontFamily: "DejaVu Sans", fontSize: fs + "px", background: "transparent", color: "black", overflow: "visible"},
    marks: [
      Plot.gridX(xTicks, {stroke: "#b0b0b0", strokeOpacity: 1, strokeWidth: 0.9}),
      Plot.gridY(yTicks, {stroke: "#b0b0b0", strokeOpacity: 1, strokeWidth: 0.9}),
      Plot.line(data, {x: "t", y: "v", z: "c", stroke: "c", strokeWidth: 1.7, clip: true}),
      Plot.frame({stroke: "black", strokeWidth: 0.9}),
      Plot.axisX({ticks: xTicks, tickSize: 4, tickPadding: 4, tickFormat: d => String(d), label: null, fontSize: fs, strokeWidth: 0.9}),
      Plot.axisY({ticks: yTicks, tickSize: 4, tickPadding: 4, tickFormat: d => String(d), label: null, fontSize: fs, strokeWidth: 0.9}),
      Plot.text([title], {frameAnchor: "top", dy: -11.5, fontSize: titleFs, fill: "black"}),
      Plot.text(["Timestep"], {frameAnchor: "bottom", dy: 29, fontSize: fs, fill: "black"}),
      Plot.text(["Number of Robots in Favour"], {frameAnchor: "left", dx: -41.6, rotate: -90, fontSize: fs, fill: "black"})
    ]
  });
  const cell = document.createElement("div");
  cell.className = "cell";
  cell.style.left = Math.round(col * cellW) + "px";
  cell.style.top = Math.round(row * 409.5) + "px";
  cell.appendChild(svg);
  cell.appendChild(makeLegend(legendLoc[i]));
  fig.appendChild(cell);
});
</script></body></html>
